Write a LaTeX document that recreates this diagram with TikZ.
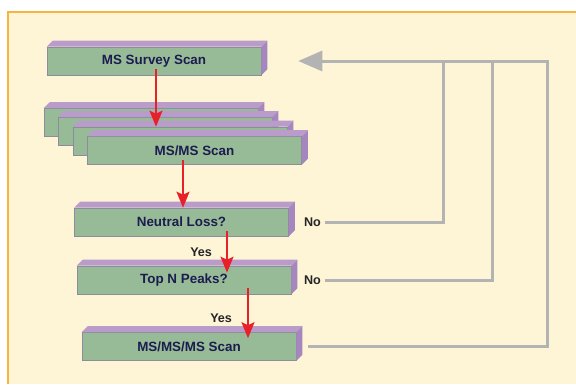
\documentclass[tikz,border=0pt]{standalone}
\usepackage{fontspec}
\usepackage{tikz}
\usetikzlibrary{positioning,arrows.meta}

\newfontfamily\sansbold{Liberation Sans}

\definecolor{panelbg}{HTML}{FEF4D6}
\definecolor{panelline}{HTML}{F7B441}
\definecolor{slabfront}{HTML}{97BB96}
\definecolor{slabtop}{HTML}{B99CCA}
\definecolor{slabside}{HTML}{A586BE}
\definecolor{slabedge}{HTML}{8C8C9C}
\definecolor{slabtext}{HTML}{1C1C50}
\definecolor{flowred}{HTML}{E8202A}
\definecolor{backgray}{HTML}{B3B3B3}

\tikzset{
  slab/.style={draw=slabedge, line width=.6pt, fill=slabfront, text=slabtext,
    font=\sansbold\fontsize{13.4}{15}\bfseries, minimum width=214pt, minimum height=28pt, inner sep=0pt},
  answer/.style={font=\sansbold\fontsize{12.6}{14}\bfseries, text=black!85, inner sep=1pt},
  flow/.style={draw=flowred, line width=2pt, -{Stealth[length=16pt, width=13pt, inset=3pt]}},
  back/.style={draw=backgray, line width=3pt},
}

% front face plus top and side faces
\newcommand{\slab}[3]{%
  \node[slab] (#1) at #2 {#3};
  \fill[slabtop] (#1.north west) -- ++(6,6) -- ([shift={(6,6)}]#1.north east) -- (#1.north east) -- cycle;
  \fill[slabside] (#1.north east) -- ++(6,6) -- ([shift={(6,6)}]#1.south east) -- (#1.south east) -- cycle;
}

\begin{document}
\begin{tikzpicture}[x=1pt, y=1pt]
  \useasboundingbox (0,0) rectangle (576,384);
  \fill[panelbg] (8,0) rectangle (576,372);
  \draw[panelline, line width=1.5pt] (8,0) -- (8,372) -- (576,372);

  \slab{survey}{(154,323)}{MS Survey Scan}
  \slab{stacka}{(151,261.5)}{}
  \slab{stackb}{(165,252.5)}{}
  \slab{stackc}{(180,243)}{}
  \slab{msms}{(194.5,233.5)}{MS/MS Scan}
  \slab{neutral}{(181.5,162)}{Neutral Loss?}
  \slab{topn}{(184,104)}{Top N Peaks?}
  \slab{msmsms}{(189,37.5)}{MS/MS/MS Scan}

  % forward steps
  \draw[flow] ([shift={(2,-8)}]survey.center) -- ([xshift=2pt]survey.center |- stackc.north);
  \draw[flow] ([shift={(-11.5,-9.5)}]msms.center) -- ([xshift=-11.5pt]msms.center |- neutral.north);
  \draw[flow] ([shift={(45.5,-9)}]neutral.center) -- ([xshift=45.5pt,yshift=-7pt]neutral.center |- topn.north)
    node[answer, midway, left=13pt] {Yes};
  \draw[flow] ([shift={(64,-8)}]topn.center) -- ([xshift=64pt,yshift=-6pt]topn.center |- msmsms.north)
    node[answer, pos=.6, left=14pt] {Yes};

  % loop back to the survey scan
  \node[answer, right=14pt of neutral.east] (noa) {No};
  \node[answer] (nob) at (noa |- topn) {No};
  \coordinate (ja) at (443,323);
  \coordinate (jb) at (492,323);
  \coordinate (jc) at (547,323);
  \coordinate (ret) at ([xshift=37pt]survey.east);

  \draw[back] ([xshift=3pt]noa.east) -| (ja);
  \draw[back] ([xshift=3pt]nob.east) -| (jb);
  \draw[back, -{Triangle[length=24pt, width=20pt]}] ([xshift=12pt]msmsms.east) -| (jc) -- (ret);
\end{tikzpicture}
\end{document}
